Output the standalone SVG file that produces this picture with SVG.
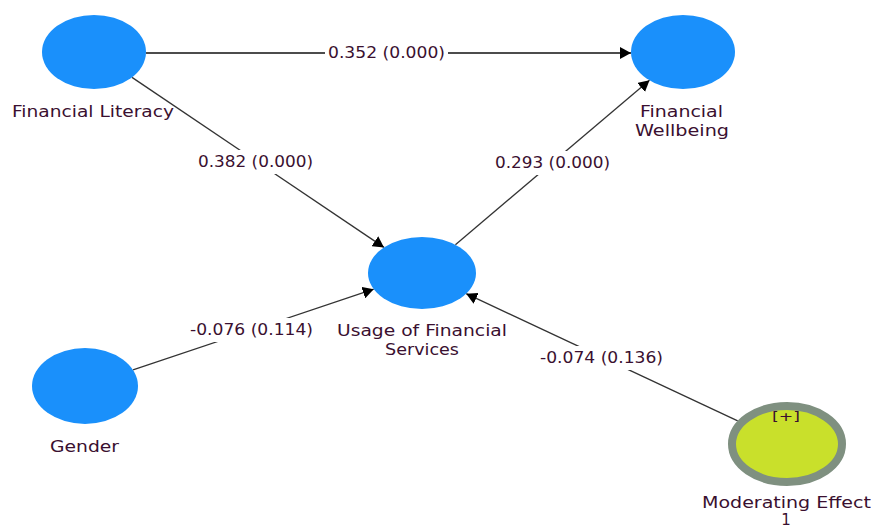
<svg xmlns="http://www.w3.org/2000/svg" width="871" height="529" viewBox="0 0 871 529">
<defs>
<marker id="ah" markerUnits="userSpaceOnUse" markerWidth="12" markerHeight="12" refX="11" refY="6" orient="auto">
<path d="M0,0 L11,6 L0,12 z" fill="#000"/>
</marker>
<style>
.node{fill:#1a90fb}
.lbl{font-family:"DejaVu Sans",sans-serif;font-size:15px;fill:#3a1030;text-anchor:middle}
.elbl{font-family:"DejaVu Sans",sans-serif;font-size:16px;fill:#3a1030;text-anchor:middle}
.bg{fill:#fff}
.edge{stroke:#333;stroke-width:1.3;fill:none;marker-end:url(#ah)}
</style>
</defs>
<rect width="871" height="529" fill="#fff"/>
<g id="connectors">
<line class="edge" x1="146" y1="53" x2="631" y2="53" style="stroke:#111"/>
<line class="edge" x1="132" y1="77.4" x2="384" y2="247.4"/>
<line class="edge" x1="455.4" y1="244.7" x2="649.5" y2="80.3"/>
<line class="edge" x1="133" y1="369.9" x2="373.7" y2="289.2"/>
<line class="edge" x1="737.7" y1="420.9" x2="466.2" y2="293.7"/>
<rect class="bg" x="325" y="43" width="123" height="20"/>
<rect class="bg" x="195" y="150" width="121" height="24"/>
<rect class="bg" x="492" y="151" width="121" height="24"/>
<rect class="bg" x="187" y="318" width="129" height="24"/>
<rect class="bg" x="537" y="346" width="129" height="24"/>
<text class="elbl" x="386.5" y="58" textLength="117" lengthAdjust="spacingAndGlyphs">0.352 (0.000)</text>
<text class="elbl" x="255.5" y="167" textLength="115" lengthAdjust="spacingAndGlyphs">0.382 (0.000)</text>
<text class="elbl" x="552.5" y="168" textLength="115" lengthAdjust="spacingAndGlyphs">0.293 (0.000)</text>
<text class="elbl" x="251.5" y="335" textLength="123" lengthAdjust="spacingAndGlyphs">-0.076 (0.114)</text>
<text class="elbl" x="601.5" y="363" textLength="123" lengthAdjust="spacingAndGlyphs">-0.074 (0.136)</text>
</g>
<g id="financial-literacy">
<ellipse class="node" cx="94" cy="52" rx="52" ry="37"/>
<text class="lbl" x="93" y="117" textLength="162" lengthAdjust="spacingAndGlyphs">Financial Literacy</text>
</g>
<g id="financial-wellbeing">
<ellipse class="node" cx="683" cy="52" rx="52" ry="37"/>
<text class="lbl" x="681.5" y="117" textLength="83" lengthAdjust="spacingAndGlyphs">Financial</text>
<text class="lbl" x="682" y="136" textLength="94" lengthAdjust="spacingAndGlyphs">Wellbeing</text>
</g>
<g id="usage">
<ellipse class="node" cx="422" cy="273" rx="54" ry="36"/>
<text class="lbl" x="422" y="336" textLength="170" lengthAdjust="spacingAndGlyphs">Usage of Financial</text>
<text class="lbl" x="422" y="355" textLength="74" lengthAdjust="spacingAndGlyphs">Services</text>
</g>
<g id="gender">
<ellipse class="node" cx="85" cy="386" rx="53" ry="38"/>
<text class="lbl" x="84.5" y="452" textLength="69" lengthAdjust="spacingAndGlyphs">Gender</text>
</g>
<g id="moderating-effect">
<ellipse cx="787" cy="444" rx="55" ry="38" fill="#c9e02b" stroke="#7f9080" stroke-width="8"/>
<text class="lbl" x="786" y="421" style="font-size:13px" textLength="28" lengthAdjust="spacingAndGlyphs">[+]</text>
<text class="lbl" x="786.5" y="508" textLength="169" lengthAdjust="spacingAndGlyphs">Moderating Effect</text>
<text class="lbl" x="786" y="525">1</text>
</g>
</svg>
